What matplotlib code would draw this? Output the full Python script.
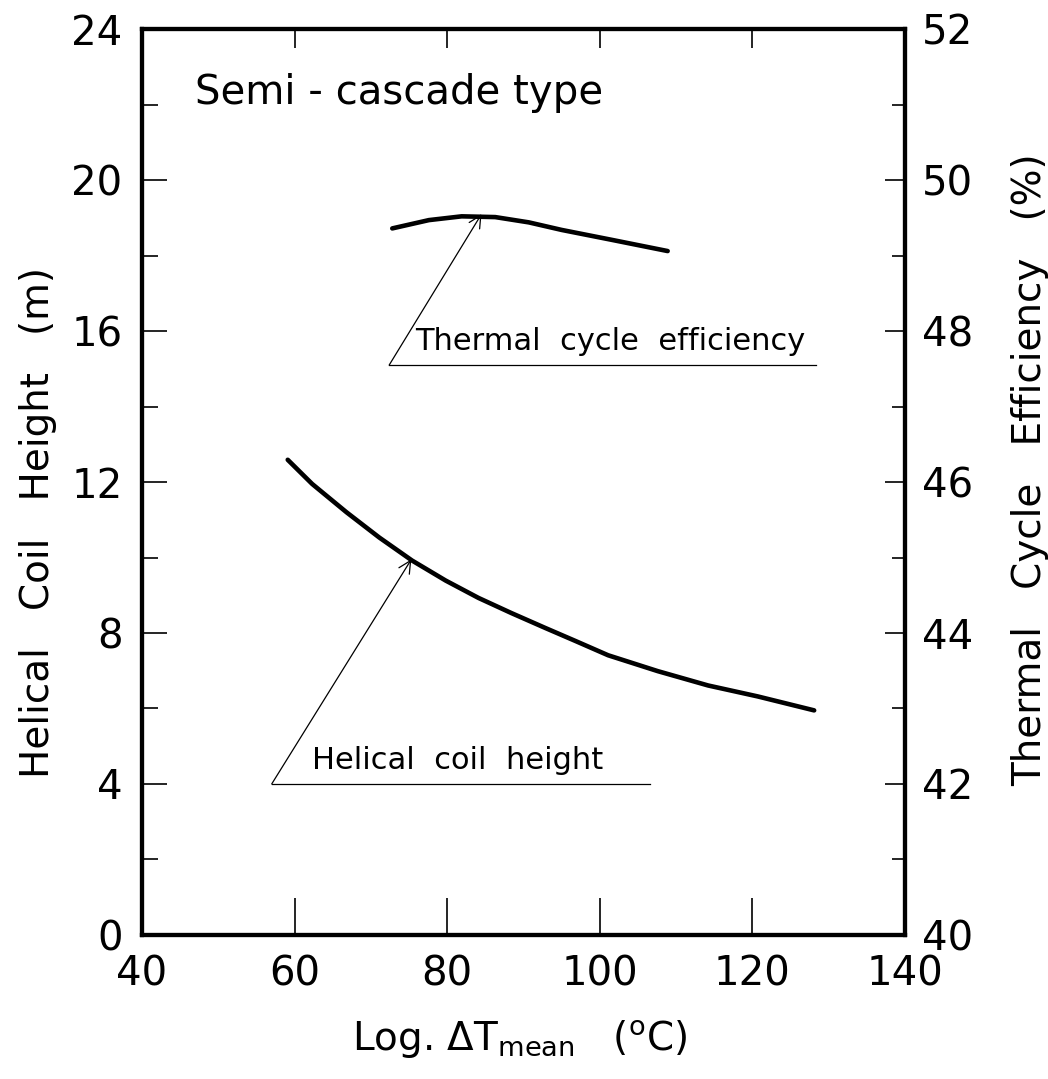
import matplotlib
matplotlib.use('Agg')
import matplotlib.pyplot as plt
from matplotlib.ticker import MultipleLocator

# 曲线数据
coil_x = [59.1, 62.3, 66.8, 71.1, 75.4, 79.8, 84.1, 88.4, 92.9, 96.8,
          101.1, 107.6, 114.2, 120.7, 128.1]
coil_h = [12.59, 11.95, 11.2, 10.53, 9.92, 9.39, 8.93, 8.53, 8.13, 7.79,
          7.41, 6.99, 6.61, 6.32, 5.95]
eff_x = [72.8, 77.6, 81.9, 86.3, 90.7, 95.0, 101.5, 108.9]
eff_v = [49.36, 49.47, 49.52, 49.51, 49.44, 49.34, 49.21, 49.06]

x_ticks = [40, 60, 80, 100, 120, 140]
left_ticks = [0, 4, 8, 12, 16, 20, 24]
right_ticks = [40, 42, 44, 46, 48, 50, 52]

plt.rcParams['font.family'] = ['DejaVu Sans']

fig = plt.figure(figsize=(10.48, 10.79), dpi=100)
ax = fig.add_axes([0.1355, 0.1335, 0.728, 0.8395])
ax2 = ax.twinx()

ax.set_xlim(40, 140)
ax.set_ylim(0, 24)
ax2.set_ylim(40, 52)

ax.plot(coil_x, coil_h, color='black', lw=3.3, solid_capstyle='round',
        solid_joinstyle='round')
ax2.plot(eff_x, eff_v, color='black', lw=3.3, solid_capstyle='round',
         solid_joinstyle='round')

for a in (ax, ax2):
    for s in a.spines.values():
        s.set_linewidth(3.0)

# 刻度：下边长，上边短
ax.set_xticks(x_ticks)
ax.set_yticks(left_ticks)
ax.yaxis.set_minor_locator(MultipleLocator(2))
ax2.set_yticks(right_ticks)
ax2.yaxis.set_minor_locator(MultipleLocator(1))
ax.tick_params(axis='x', which='major', direction='in', length=27, width=1.2,
               top=False, labelsize=29, pad=14)
ax.tick_params(axis='y', which='major', direction='in', length=18, width=1.2,
               labelsize=29, pad=14)
ax.tick_params(axis='y', which='minor', direction='in', length=11.5, width=1.2)
ax2.xaxis.set_visible(True)
ax2.tick_params(axis='x', which='major', direction='in', length=14, width=1.2,
                top=True, bottom=False, labeltop=False, labelbottom=False)
ax2.tick_params(axis='y', which='major', direction='in', length=14.5, width=1.2,
                labelsize=29, pad=12)
ax2.tick_params(axis='y', which='minor', direction='in', length=9.5, width=1.2)

# 文字
ax.text(46.9, 22.3, 'Semi - cascade type', fontsize=29, va='center', ha='left')

# 引线标注
ax.annotate('', xy=(84.5, 19.1), xytext=(72.4, 15.1),
            arrowprops=dict(arrowstyle='->', lw=0.9, color='black',
                            mutation_scale=22, shrinkA=0, shrinkB=0))
ax.plot([72.4, 128.3], [15.1, 15.1], color='black', lw=0.9)
ax.text(75.8, 15.35, 'Thermal  cycle  efficiency', fontsize=22, ha='left', va='bottom')

ax.annotate('', xy=(75.3, 9.95), xytext=(57.0, 4.0),
            arrowprops=dict(arrowstyle='->', lw=0.9, color='black',
                            mutation_scale=22, shrinkA=0, shrinkB=0))
ax.plot([57.0, 106.6], [4.0, 4.0], color='black', lw=0.9)
ax.text(62.3, 4.25, 'Helical  coil  height', fontsize=22, ha='left', va='bottom')

fig.text(38 / 1048, 1 - 522 / 1079, 'Helical   Coil   Height   (m)', rotation=90,
         fontsize=28, ha='center', va='center')
fig.text(1030 / 1048, 1 - 470 / 1079, 'Thermal   Cycle   Efficiency   (%)', rotation=90,
         fontsize=28, ha='center', va='center')
fig.text(520 / 1048, 1 - 1040 / 1079,
         r'Log. $\Delta\mathrm{T}_{\mathrm{mean}}$   $(^{\mathrm{o}}\mathrm{C})$',
         fontsize=28, ha='center', va='center')

fig.savefig('out.png', dpi=100)
